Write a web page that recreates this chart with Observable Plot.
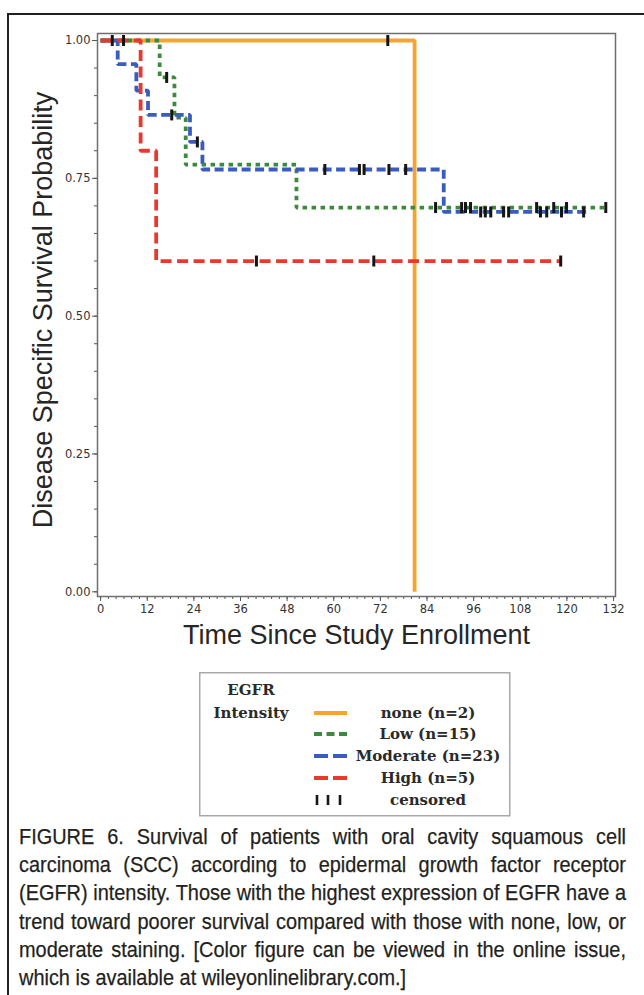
<!DOCTYPE html>
<html>
<head>
<meta charset="utf-8">
<script src="https://cdn.jsdelivr.net/npm/d3@7"></script>
<script src="https://cdn.jsdelivr.net/npm/@observablehq/plot@0.6"></script>
<style>
  html, body { margin: 0; padding: 0; background: #fff; }
  body { width: 644px; height: 995px; position: relative; overflow: hidden; }
  #outer { position: absolute; left: 7px; top: 13px; right: -10px; bottom: -10px;
           border-left: 2px solid #231f20; border-top: 2px solid #231f20; }
  #chart { position: absolute; left: 0; top: 0; }
  #legend { position: absolute; left: 199px; top: 672px; }
  #caption { position: absolute; left: 19px; top: 823px; width: 607px;
             font-family: "Liberation Sans", Arial, sans-serif;
             font-size: 22.5px; line-height: 28.2px; color: #231f20;
             -webkit-text-stroke: 0.25px #231f20; }
  #caption div { white-space: nowrap; text-align: justify; text-align-last: justify;
                 transform-origin: 0 50%; }
  #caption div.last { text-align-last: left; }
  #measure { position: absolute; visibility: hidden; white-space: nowrap;
             font-family: "Liberation Sans", Arial, sans-serif; font-size: 22.5px; }
</style>
</head>
<body>
<div id="outer"></div>
<div id="chart"></div>
<div id="legend"></div>
<div id="caption"></div>
<span id="measure"></span>
<script>
// ---------------- data ----------------
const groups = ["none", "Low", "Moderate", "High"];
const groupLabels = ["none (n=2)", "Low (n=15)", "Moderate (n=23)", "High (n=5)"];

// step points (time in months, survival probability)
const noneTimes = [0, 80.8];
const noneSurv  = [1, 0];
const noneCensored = [73.9];

const lowTimes = [0, 15.2, 19.0, 21.9, 50.4, 130.4];
const lowSurv  = [1, 0.933, 0.86, 0.775, 0.697, 0.697];
const lowCensored = [5.9, 17.0, 86.2, 92.9, 93.9, 95.2, 112.2, 116.6, 119.9, 130.0];

const modTimes = [0, 4.4, 9.2, 12.2, 23.0, 26.2, 88.3, 126.0];
const modSurv  = [1, 0.957, 0.909, 0.865, 0.816, 0.766, 0.689, 0.689];
const modCensored = [3.0, 18.3, 24.9, 57.7, 66.6, 67.8, 74.2, 78.5, 97.8, 99.0, 100.4,
                     103.7, 105.0, 113.2, 114.8, 118.6, 124.3];

const highTimes = [0, 10.3, 14.3, 118.4];
const highSurv  = [1, 0.8, 0.6, 0.6];
const highCensored = [40.1, 70.3, 118.4];

const xTicks = [0, 12, 24, 36, 48, 60, 72, 84, 96, 108, 120, 132];
const yTicks = [0, 0.25, 0.5, 0.75, 1];

const captionLines = [
  "FIGURE 6. Survival of patients with oral cavity squamous cell",
  "carcinoma (SCC) according to epidermal growth factor receptor",
  "(EGFR) intensity. Those with the highest expression of EGFR have a",
  "trend toward poorer survival compared with those with none, low, or",
  "moderate staining. [Color figure can be viewed in the online issue,",
  "which is available at wileyonlinelibrary.com.]"
];

// ---------------- styles ----------------
const styles = {
  none:     {color: "#f5a52c", dash: null, legendDash: null},
  Low:      {color: "#3c8a3c", dash: "4.5,4.5", legendDash: "8,4.5"},
  Moderate: {color: "#3a5bc0", dash: "9,4.5", legendDash: "14,5"},
  High:     {color: "#e8392f", dash: "11,5.5", legendDash: "14,5"}
};

// ---------------- build tables ----------------
const series = {
  none:     {t: noneTimes, s: noneSurv, c: noneCensored},
  Low:      {t: lowTimes, s: lowSurv, c: lowCensored},
  Moderate: {t: modTimes, s: modSurv, c: modCensored},
  High:     {t: highTimes, s: highSurv, c: highCensored}
};
function stepAt(t, ts, ss) {
  let v = ss[0];
  for (let i = 0; i < ts.length; i++) if (ts[i] <= t) v = ss[i];
  return v;
}
const lineData = {};
const censorData = [];
for (const g of groups) {
  const S = series[g];
  lineData[g] = S.t.map((t, i) => ({t, s: S.s[i]}));
  for (const t of S.c) censorData.push({g, t, s: stepAt(t, S.t, S.s)});
}

const tickSymbol = {
  draw(ctx, size) {
    const h = Math.sqrt(size / Math.PI);
    ctx.moveTo(0, -h);
    ctx.lineTo(0, h);
  }
};

const axisFont = "DejaVu Sans";
const titleFont = "Liberation Sans";

const plot = Plot.plot({
  width: 644,
  height: 665,
  marginLeft: 97,
  marginRight: 29,
  marginTop: 33,
  marginBottom: 69,
  style: {fontFamily: axisFont, fontSize: "11px", background: "transparent"},
  x: {domain: [-0.8, 132.5]},
  y: {domain: [-0.0085, 1.0127]},
  marks: [
    Plot.axisY({ticks: d3.range(0, 1.0001, 0.05), tickSize: 3, tickFormat: () => "", label: null, stroke: "#555"}),
    Plot.axisY({ticks: yTicks, tickSize: 5, tickPadding: 2, tickFormat: d3.format(".2f"),
                label: null, stroke: "#555", fill: "#333", fontSize: 11.5, fontFamily: axisFont}),
    Plot.axisX({ticks: d3.range(0, 133, 2), tickSize: 3, tickFormat: () => "", label: null, stroke: "#555"}),
    Plot.axisX({ticks: xTicks, tickSize: 5, tickPadding: 3, label: null, stroke: "#555",
                fill: "#333", fontSize: 11.5, fontFamily: axisFont}),
    ...groups.map(g => Plot.line(lineData[g], {
      x: "t", y: "s", curve: "step-after",
      stroke: styles[g].color, strokeWidth: 3.8,
      strokeDasharray: styles[g].dash, strokeLinecap: "butt", strokeLinejoin: "miter"
    })),
    Plot.dot(censorData, {x: "t", y: "s", symbol: tickSymbol, r: 5.5, fill: "none",
                          stroke: "#151515", strokeWidth: 3}),
    Plot.frame({stroke: "#6e6e6e", strokeWidth: 1.5}),
    Plot.text(["Disease Specific Survival Probability"], {
      frameAnchor: "left", dx: -54, dy: -5, rotate: -90, text: d => d, textAnchor: "middle",
      fontSize: 27, fontFamily: titleFont, fill: "#262626"
    }),
    Plot.text(["Time Since Study Enrollment"], {
      frameAnchor: "bottom", dy: 47, text: d => d, textAnchor: "middle",
      fontSize: 27, fontFamily: titleFont, fill: "#262626"
    })
  ]
});
document.getElementById("chart").appendChild(plot);

// ---------------- legend ----------------
(function () {
  const W = 310, H = 143;
  const svg = d3.select("#legend").append("svg").attr("width", W + 2).attr("height", H + 2);
  svg.append("rect").attr("x", 0.75).attr("y", 0.75).attr("width", W).attr("height", H)
    .attr("fill", "#fff").attr("stroke", "#a9a9a9").attr("stroke-width", 1.5);
  const font = "DejaVu Serif";
  const txt = (x, y, s) => svg.append("text").attr("x", x).attr("y", y).text(s)
    .attr("text-anchor", "middle").attr("dominant-baseline", "central")
    .attr("font-family", font).attr("font-weight", "bold").attr("font-size", 15)
    .attr("fill", "#2a2a2a");
  txt(52, 18, "EGFR");
  txt(52, 41, "Intensity");
  const rowY = [41, 62, 84, 106, 128];
  groups.forEach((g, i) => {
    svg.append("line").attr("x1", 115).attr("x2", 148).attr("y1", rowY[i]).attr("y2", rowY[i])
      .attr("stroke", styles[g].color).attr("stroke-width", 3.8)
      .attr("stroke-dasharray", styles[g].legendDash);
    txt(229, rowY[i], groupLabels[i]);
  });
  [118, 129, 141].forEach(x => svg.append("line").attr("x1", x).attr("x2", x)
    .attr("y1", rowY[4] - 5).attr("y2", rowY[4] + 5).attr("stroke", "#151515").attr("stroke-width", 2.6));
  txt(229, rowY[4], "censored");
})();

// ---------------- caption ----------------
const cap = document.getElementById("caption");
const meas = document.getElementById("measure");
meas.textContent = captionLines[2];
const natural = meas.getBoundingClientRect().width;
const k = Math.min(1, 606 / natural);
captionLines.forEach((l, i) => {
  const d = document.createElement("div");
  d.textContent = l;
  d.style.width = (607 / k) + "px";
  d.style.transform = `scaleX(${k})`;
  if (i === captionLines.length - 1) d.className = "last";
  cap.appendChild(d);
});
</script>
</body>
</html>
